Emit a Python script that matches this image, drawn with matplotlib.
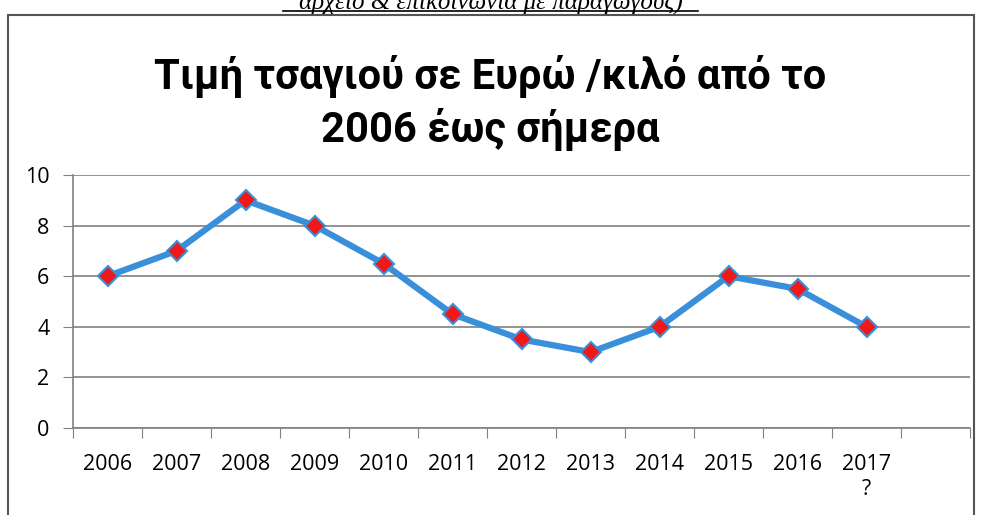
import matplotlib.pyplot as plt
from matplotlib.patches import Rectangle

years = ["2006", "2007", "2008", "2009", "2010", "2011", "2012",
         "2013", "2014", "2015", "2016", "2017\n?", ""]
prices = [6, 7, 9, 8, 6.5, 4.5, 3.5, 3, 4, 6, 5.5, 4]

fig = plt.figure(figsize=(9.81, 5.15), dpi=100)
plt.rcParams['font.family'] = ['Open Sans', 'DejaVu Sans']

# caption cut at the top of the page
fig.text(0.5, 1 - 9 / 515, "αρχείο & επικοινωνία με παραγωγούς)", ha="center",
         va="baseline", fontsize=18, style="italic", family="Liberation Serif")
fig.add_artist(plt.Line2D([0.288, 0.712], [1 - 11 / 515, 1 - 11 / 515],
                          color="black", lw=1.2))

# chart frame
fig.add_artist(Rectangle((8 / 981, -0.05), 966 / 981, 1.02, fill=False,
                         edgecolor="#555555", lw=1.5, transform=fig.transFigure))

fig.text(0.5, 1 - 89 / 515, "Τιμή τσαγιού σε Ευρώ /κιλό από το", ha="center",
         va="baseline", fontsize=30, fontweight="bold", family="Roboto")
fig.text(0.5, 1 - 142 / 515, "2006 έως σήμερα", ha="center", va="baseline",
         fontsize=30, fontweight="bold", family="Roboto")

ax = fig.add_axes([73 / 981, 1 - 428 / 515, 897 / 981, 253 / 515])
x = [i + 0.5 for i in range(len(prices))]
ax.plot(x, prices, color="#3A8FDB", lw=4.5, marker="D", markersize=10,
        markerfacecolor="#F01818", markeredgecolor="#3A8FDB", markeredgewidth=1.5,
        zorder=3)

ax.set_xlim(0, len(years))
ax.set_ylim(0, 10)
ax.set_yticks([0, 2, 4, 6, 8, 10])
ax.yaxis.grid(True, color="#808080", lw=1.2)
ax.set_axisbelow(True)

ax.set_xticks(range(len(years) + 1))
ax.set_xticklabels([])
ax.set_xticks([i + 0.5 for i in range(len(years))], minor=True)
ax.set_xticklabels(years, minor=True, fontsize=15.5, linespacing=1.25, va="top")
ax.tick_params(axis="x", which="minor", length=0, pad=19)
ax.tick_params(axis="x", which="major", length=7, direction="out", color="#808080")
ax.tick_params(axis="y", length=7, direction="out", color="#808080",
               labelsize=15.5, pad=10)

for s in ["top", "right"]:
    ax.spines[s].set_visible(False)
for s in ["left", "bottom"]:
    ax.spines[s].set_color("#808080")
    ax.spines[s].set_linewidth(1.2)

fig.savefig("out.png", dpi=100)
